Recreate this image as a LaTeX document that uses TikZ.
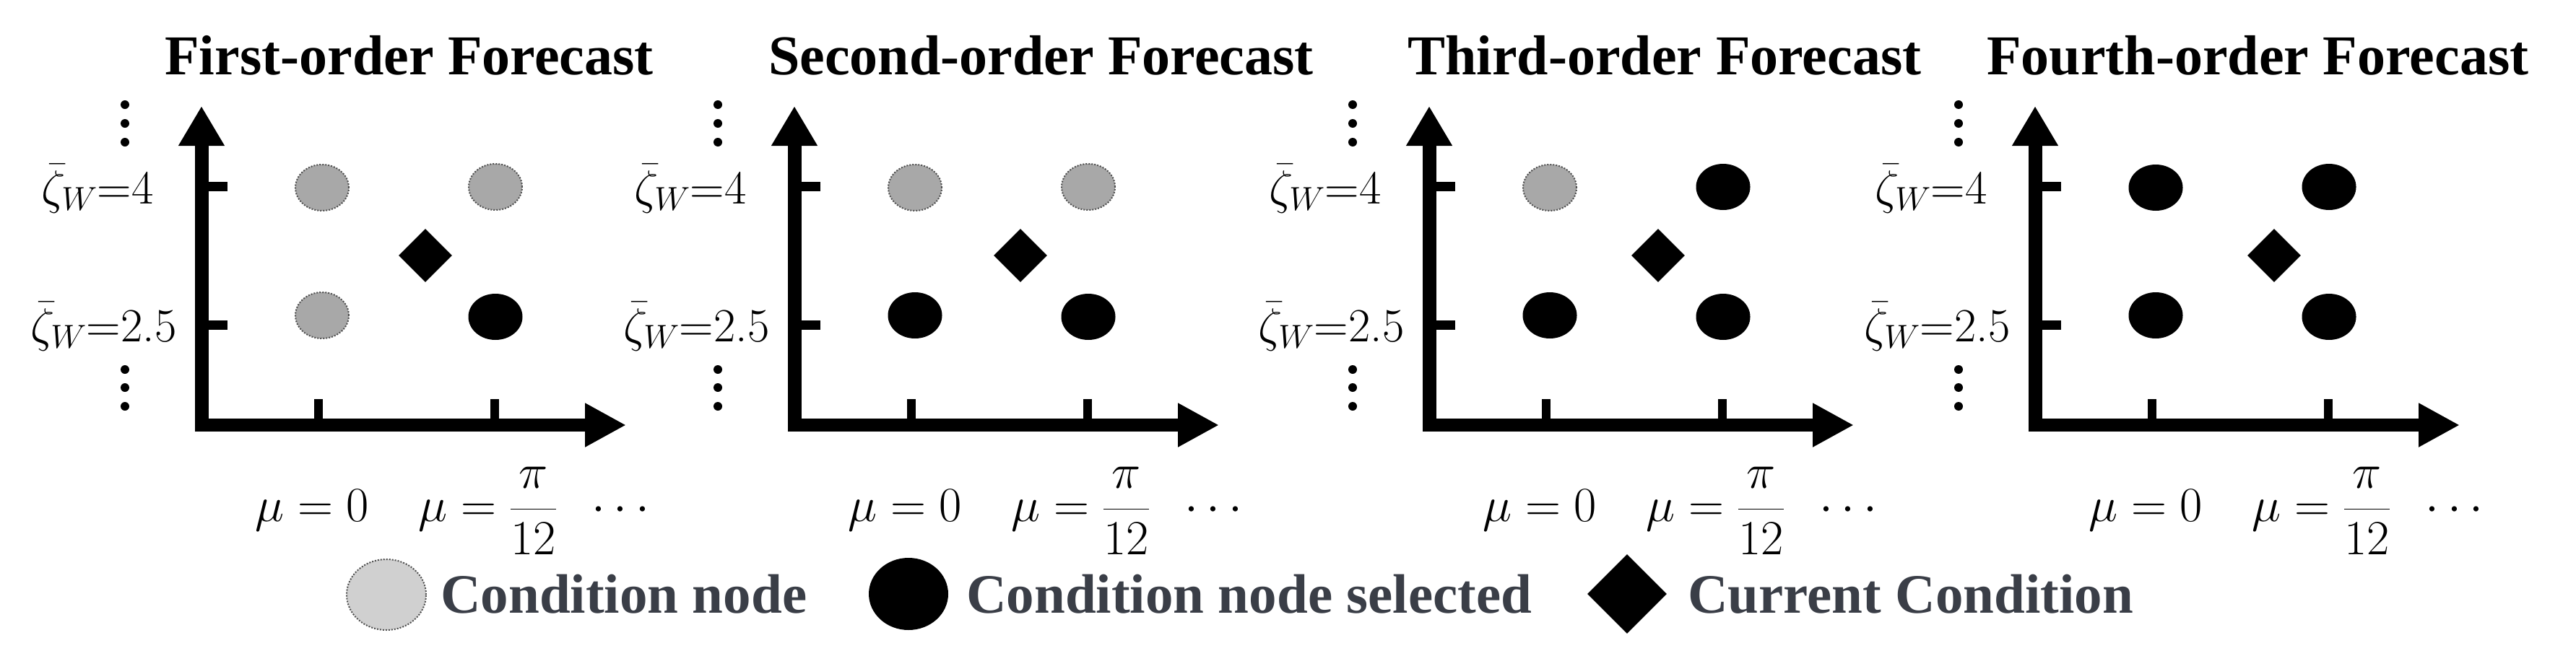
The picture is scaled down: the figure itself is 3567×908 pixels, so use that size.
\RequirePackage{fix-cm}
\documentclass[tikz,border=0pt]{standalone}
\usepackage{amsmath}
\usepackage{fontspec}
\newfontfamily\tnr{Liberation Serif}
\usetikzlibrary{arrows.meta,shapes.geometric}
\definecolor{nodegray}{HTML}{A8A8A8}
\definecolor{leggray}{HTML}{D0D0D0}
\definecolor{edgegray}{HTML}{505050}
\definecolor{legtext}{HTML}{3A3E47}
\tikzset{
  condgray/.style={ellipse, inner sep=0pt, minimum width=74pt, minimum height=64pt,
    fill=nodegray, draw=edgegray, line width=2pt, dash pattern=on 2pt off 2pt},
  condsel/.style={ellipse, inner sep=0pt, minimum width=75pt, minimum height=64pt, fill=black},
  curcond/.style={diamond, inner sep=0pt, minimum width=74pt, minimum height=74pt, fill=black},
  titlefont/.style={font=\tnr\bfseries\fontsize{78}{90}\selectfont, inner sep=0pt},
  axlabel/.style={font=\fontsize{66}{78}\selectfont, inner sep=0pt, anchor=base west},
  mulabel/.style={font=\fontsize{68}{80}\selectfont, inner sep=0pt, anchor=base west},
  yaxis/.style={line width=19pt, -{Triangle[length=55pt,width=60pt]}},
  xaxis/.style={line width=18pt, -{Triangle[length=57pt,width=57pt]}},
  ytick/.style={line width=13pt},
  xtick/.style={line width=12pt},
  legtxt/.style={font=\tnr\bfseries\fontsize{77}{90}\selectfont, text=legtext, inner sep=0pt, anchor=base west},
}
% #1 xshift, #2 title, #3-#6 node styles, #7 name prefix, #8 title x (local), #9 diamond x (local)
\newcommand\drawpanel[9]{%
\begin{scope}[xshift=#1pt]
  \node[titlefont, anchor=base west] (#7title) at (#8,103) {#2};
  \coordinate (#7yb) at (279,598);
  \coordinate (#7yt) at (279,147);
  \coordinate (#7xb) at (270,589);
  \coordinate (#7xt) at (867,589);
  \draw[yaxis] (#7yb) -- (#7yt);
  \draw[xaxis] (#7xb) -- (#7xt);
  \coordinate (#7ta1) at (288,258); \coordinate (#7ta2) at (315,258);
  \coordinate (#7tb1) at (288,450); \coordinate (#7tb2) at (315,450);
  \coordinate (#7tc1) at (441,581); \coordinate (#7tc2) at (441,553);
  \coordinate (#7td1) at (685,581); \coordinate (#7td2) at (685,553);
  \draw[ytick] (#7ta1) -- (#7ta2);
  \draw[ytick] (#7tb1) -- (#7tb2);
  \draw[xtick] (#7tc1) -- (#7tc2);
  \draw[xtick] (#7td1) -- (#7td2);
  \fill (173,145) circle (6pt) (173,171) circle (6pt) (173,197) circle (6pt);
  \fill (173,512) circle (6pt) (173,537) circle (6pt) (173,563) circle (6pt);
  \node[axlabel] (#7za) at (57,282) {$\bar{\zeta}_W$=4};
  \node[axlabel] (#7zb) at (42,473) {$\bar{\zeta}_W$=2.5};
  \node[mulabel] (#7mu) at (353,722) {$\mu = 0\quad \mu = \dfrac{\pi}{12}\;\;\cdots$};
  \node[#3] (#7tl) at (446,260) {};
  \node[#4] (#7tr) at (686,259) {};
  \node[#5] (#7bl) at (446,437) {};
  \node[#6] (#7br) at (686,439) {};
  \node[curcond] (#7cur) at (#9,354) {};
\end{scope}}
\begin{document}
\begin{tikzpicture}[x=1pt,y=-1pt]
\useasboundingbox (0,0) rectangle (3567,908);
\drawpanel{0}{First-order Forecast}{condgray}{condgray}{condgray}{condsel}{a}{228}{589}
\drawpanel{821}{Second-order Forecast}{condgray}{condgray}{condsel}{condsel}{b}{243}{592}
\drawpanel{1700}{Third-order Forecast}{condgray}{condsel}{condsel}{condsel}{c}{249}{596}
\drawpanel{2539}{Fourth-order Forecast}{condsel}{condsel}{condsel}{condsel}{d}{212}{610}
% legend
\node[ellipse, inner sep=0pt, minimum width=110pt, minimum height=98pt, fill=leggray,
  draw=edgegray, line width=2pt, dash pattern=on 2pt off 2pt] (lg1) at (535,824) {};
\node[legtxt] (lt1) at (610,849) {Condition node};
\node[ellipse, inner sep=0pt, minimum width=110pt, minimum height=100pt, fill=black] (lg2) at (1258,823) {};
\node[legtxt] (lt2) at (1338,849) {Condition node selected};
\node[diamond, inner sep=0pt, minimum width=110pt, minimum height=110pt, fill=black] (lg3) at (2253,823) {};
\node[legtxt] (lt3) at (2337,849) {Current Condition};
\end{tikzpicture}
\end{document}
